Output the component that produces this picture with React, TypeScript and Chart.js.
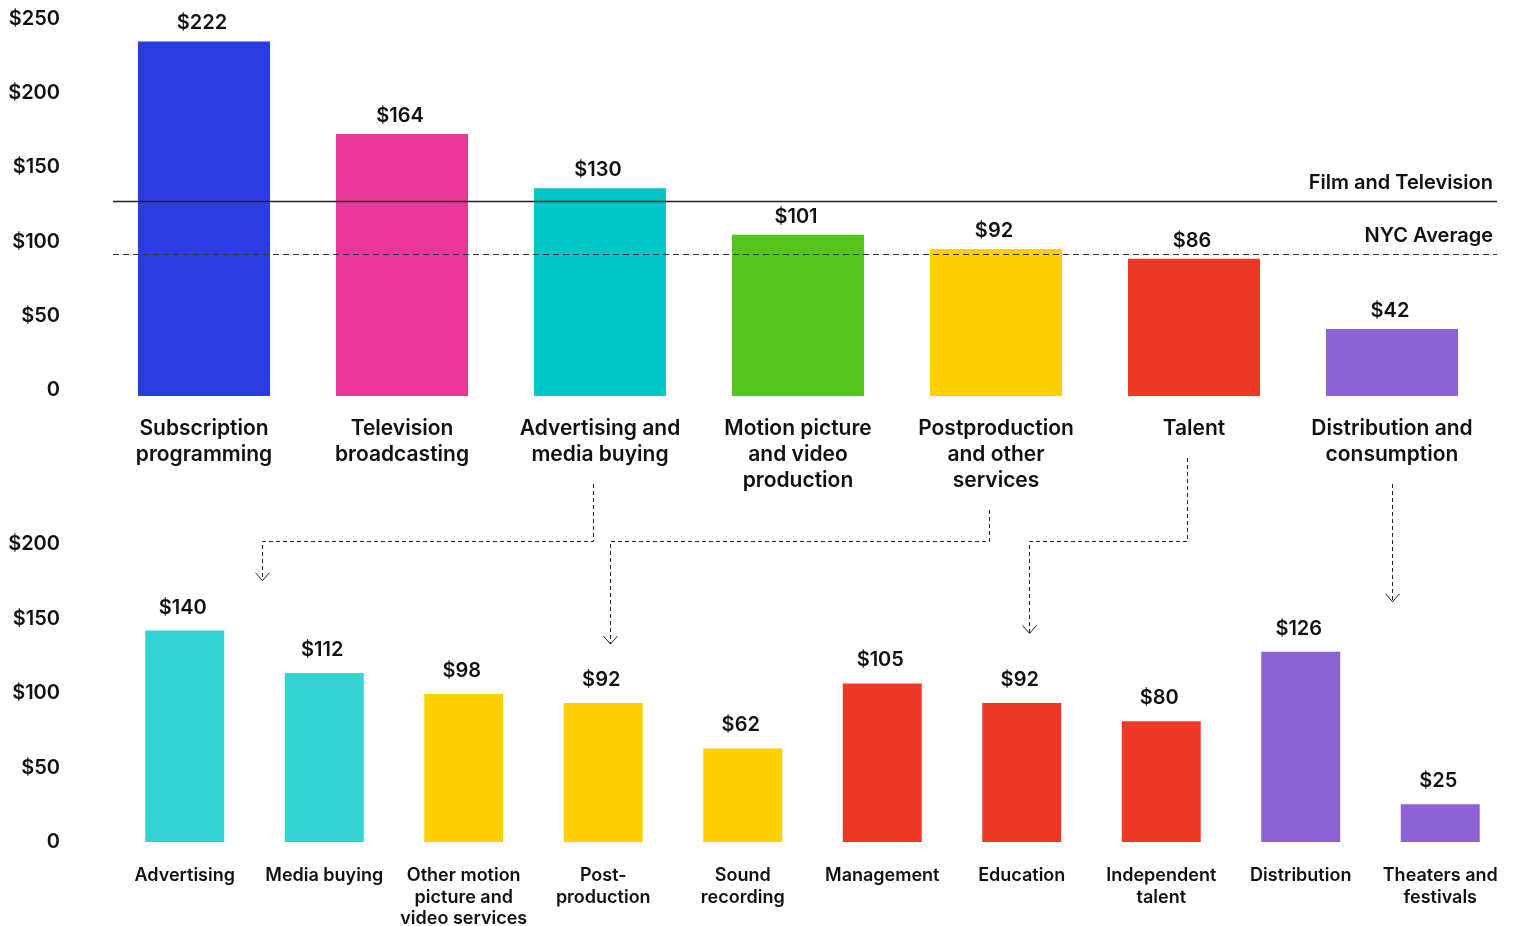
import React, { useEffect, useRef } from 'react';
import { Chart, registerables } from 'chart.js';

Chart.register(...registerables);

// ---------- DATA ----------
const topCategories: string[][] = [
  ['Subscription', 'programming'],
  ['Television', 'broadcasting'],
  ['Advertising and', 'media buying'],
  ['Motion picture', 'and video', 'production'],
  ['Postproduction', 'and other', 'services'],
  ['Talent'],
  ['Distribution and', 'consumption'],
];
const topValues = [222, 164, 130, 101, 92, 86, 42];
const topColors = ['#2A3BE0', '#EA3698', '#00C8C8', '#55C41B', '#FFD000', '#EE3826', '#8C62D4'];
const topTicks = [0, 50, 100, 150, 200, 250];

const refLabels = ['Film and Television', 'NYC Average'];
const refValues = [122, 89];
const refDashed = [false, true];

const bottomCategories: string[][] = [
  ['Advertising'],
  ['Media buying'],
  ['Other motion', 'picture and', 'video services'],
  ['Post-', 'production'],
  ['Sound', 'recording'],
  ['Management'],
  ['Education'],
  ['Independent', 'talent'],
  ['Distribution'],
  ['Theaters and', 'festivals'],
];
const bottomValues = [140, 112, 98, 92, 62, 105, 92, 80, 126, 25];
const bottomColors = [
  '#33D3D3', '#33D3D3',
  '#FFD000', '#FFD000', '#FFD000',
  '#EE3826', '#EE3826', '#EE3826',
  '#8C62D4', '#8C62D4',
];
// index of the top category each bottom bar breaks down
const bottomParents = [2, 2, 4, 4, 4, 5, 5, 5, 6, 6];
const bottomTicks = [0, 50, 100, 150, 200];

// ---------- STYLE / LAYOUT ----------
const W = 1515;
const H = 926;
const FONT = "Inter, 'Liberation Sans', Arial, sans-serif";
const INK = '#111111';

const money = (v: number) => (v === 0 ? '0' : '$' + v);

function valueLabelPlugin(id: string, gap: number, size: number) {
  return {
    id,
    afterDatasetsDraw(chart: any) {
      const ctx = chart.ctx;
      const meta = chart.getDatasetMeta(0);
      const data = chart.data.datasets[0].data as number[];
      ctx.save();
      ctx.font = `600 ${size}px ${FONT}`;
      ctx.fillStyle = INK;
      ctx.textAlign = 'center';
      ctx.textBaseline = 'middle';
      meta.data.forEach((el: any, i: number) => {
        ctx.fillText(money(data[i]), el.x - 2, el.y - gap);
      });
      ctx.restore();
    },
  };
}

const refLinePlugin = {
  id: 'refLines',
  afterDatasetsDraw(chart: any) {
    const ctx = chart.ctx;
    const { left, right } = chart.chartArea;
    const y = chart.scales.y;
    ctx.save();
    refValues.forEach((v, i) => {
      const py = Math.round(y.getPixelForValue(v)) + 0.5;
      ctx.beginPath();
      ctx.strokeStyle = refDashed[i] ? '#333333' : '#222222';
      ctx.lineWidth = refDashed[i] ? 1.2 : 1.3;
      ctx.setLineDash(refDashed[i] ? [6, 4] : []);
      ctx.moveTo(left + 8, py);
      ctx.lineTo(right + 6, py);
      ctx.stroke();
      ctx.setLineDash([]);
      ctx.font = `600 20px ${FONT}`;
      ctx.fillStyle = INK;
      ctx.textAlign = 'right';
      ctx.textBaseline = 'alphabetic';
      ctx.fillText(refLabels[i], right + 2, py - 13);
    });
    ctx.restore();
  },
};

function arrowPlugin(getTop: () => any) {
  return {
    id: 'arrows',
    afterDraw(chart: any) {
      const top = getTop();
      if (!top) return;
      const ctx = chart.ctx;
      const bx = chart.scales.x;
      const by = chart.scales.y;
      const tx = top.scales.x;
      const parents = Array.from(new Set(bottomParents));
      const midY = Math.round(chart.chartArea.top) + 1.5;
      ctx.save();
      ctx.strokeStyle = '#222222';
      ctx.lineWidth = 1;
      parents.forEach((p) => {
        const kids = bottomParents.map((q, i) => (q === p ? i : -1)).filter((i) => i >= 0);
        const cx = tx.getPixelForValue(p);
        let ex = kids.reduce((s, i) => s + bx.getPixelForValue(i), 0) / kids.length;
        const straight = Math.abs(ex - cx) < 30;
        const sx = Math.round(straight ? cx : cx - 7) + 0.5;
        ex = straight ? sx : Math.round(ex + 7) + 0.5;
        const sy = top.chartArea.bottom + 20 + topCategories[p].length * 26 + 16;
        const ey = Math.min(...kids.map((i) => by.getPixelForValue(bottomValues[i]))) - 50;
        ctx.beginPath();
        ctx.setLineDash([4, 3]);
        ctx.moveTo(sx, sy);
        if (straight) {
          ctx.lineTo(ex, ey);
        } else {
          ctx.lineTo(sx, midY);
          ctx.lineTo(ex, midY);
          ctx.lineTo(ex, ey);
        }
        ctx.stroke();
        ctx.setLineDash([]);
        ctx.beginPath();
        ctx.moveTo(ex - 7, ey - 8);
        ctx.lineTo(ex, ey);
        ctx.lineTo(ex + 7, ey - 8);
        ctx.stroke();
      });
      ctx.restore();
    },
  };
}

export default function App() {
  const topRef = useRef<HTMLCanvasElement | null>(null);
  const bottomRef = useRef<HTMLCanvasElement | null>(null);

  useEffect(() => {
    Chart.defaults.font.family = FONT;
    Chart.defaults.color = INK;
    let topChart: any = null;

    // --- top chart: bar baseline 396, label axis offset like the reference ---
    const TOP_AREA_TOP = 17;
    const TOP_AREA_BOTTOM = 396;
    const TOP_X_HEIGHT = 100;
    topChart = new Chart(topRef.current as HTMLCanvasElement, {
      type: 'bar',
      data: {
        labels: topCategories,
        datasets: [
          {
            data: topValues,
            backgroundColor: topColors,
            barPercentage: 0.667,
            categoryPercentage: 1,
            yAxisID: 'y',
          },
        ],
      },
      options: {
        responsive: false,
        animation: false,
        events: [],
        layout: {
          padding: {
            left: 0,
            right: 24,
            top: TOP_AREA_TOP,
            bottom: H - TOP_AREA_BOTTOM - TOP_X_HEIGHT,
          },
        },
        plugins: { legend: { display: false }, tooltip: { enabled: false } },
        scales: {
          x: {
            grid: { display: false, drawTicks: false },
            border: { display: false },
            ticks: {
              padding: 20,
              autoSkip: false,
              maxRotation: 0,
              color: INK,
              font: { size: 21, weight: '600', lineHeight: 1.24 },
            },
            afterFit: (s: any) => {
              s.height = TOP_X_HEIGHT;
              s.paddingLeft = 0;
              s.paddingRight = 0;
            },
          },
          y: { display: false, min: 0, max: 237.3 },
          yl: {
            position: 'left',
            min: -4.04,
            max: 251.35,
            grid: { display: false, drawTicks: false },
            border: { display: false },
            ticks: {
              padding: 45,
              color: INK,
              font: { size: 20, weight: '600' },
              callback: (v: any) => money(Number(v)),
            },
            afterBuildTicks: (s: any) => {
              s.ticks = topTicks.map((v) => ({ value: v }));
            },
            afterFit: (s: any) => {
              s.width = 105;
              s.paddingTop = 0;
              s.paddingBottom = 0;
            },
          },
        },
      } as any,
      plugins: [valueLabelPlugin('topValues', 18, 20), refLinePlugin],
    });

    // --- bottom chart ---
    const BOT_AREA_TOP = 540;
    const BOT_X_HEIGHT = 84;
    const bottomChart = new Chart(bottomRef.current as HTMLCanvasElement, {
      type: 'bar',
      data: {
        labels: bottomCategories,
        datasets: [
          {
            data: bottomValues,
            backgroundColor: bottomColors,
            barPercentage: 0.566,
            categoryPercentage: 1,
            yAxisID: 'y',
          },
        ],
      },
      options: {
        responsive: false,
        animation: false,
        events: [],
        layout: { padding: { left: 0, right: 5, top: BOT_AREA_TOP, bottom: 0 } },
        plugins: { legend: { display: false }, tooltip: { enabled: false } },
        scales: {
          x: {
            grid: { display: false, drawTicks: false },
            border: { display: false },
            ticks: {
              padding: 23,
              autoSkip: false,
              maxRotation: 0,
              color: INK,
              font: { size: 18, weight: '600', lineHeight: 1.2 },
            },
            afterFit: (s: any) => {
              s.height = BOT_X_HEIGHT;
              s.paddingLeft = 0;
              s.paddingRight = 0;
            },
          },
          y: { display: false, min: 0, max: 200 },
          yl: {
            position: 'left',
            min: 0,
            max: 202.7,
            grid: { display: false, drawTicks: false },
            border: { display: false },
            ticks: {
              padding: 55,
              color: INK,
              font: { size: 20, weight: '600' },
              callback: (v: any) => money(Number(v)),
            },
            afterBuildTicks: (s: any) => {
              s.ticks = bottomTicks.map((v) => ({ value: v }));
            },
            afterFit: (s: any) => {
              s.width = 115;
              s.paddingTop = 0;
              s.paddingBottom = 0;
            },
          },
        },
      } as any,
      plugins: [valueLabelPlugin('bottomValues', 23, 20), arrowPlugin(() => topChart)],
    });

    let alive = true;
    if ((document as any).fonts && (document as any).fonts.load) {
      Promise.all([
        (document as any).fonts.load(`600 20px Inter`),
        (document as any).fonts.load(`600 18px Inter`),
      ]).then(() => {
        if (!alive) return;
        topChart.update();
        bottomChart.update();
      }).catch(() => {});
    }

    return () => {
      alive = false;
      topChart.destroy();
      bottomChart.destroy();
    };
  }, []);

  return (
    <div style={{ position: 'absolute', left: 0, top: 0, width: W, height: H, background: '#ffffff' }}>
      <canvas ref={topRef} width={W} height={H} style={{ position: 'absolute', left: 0, top: 0 }} />
      <canvas ref={bottomRef} width={W} height={H} style={{ position: 'absolute', left: 0, top: 0 }} />
    </div>
  );
}
